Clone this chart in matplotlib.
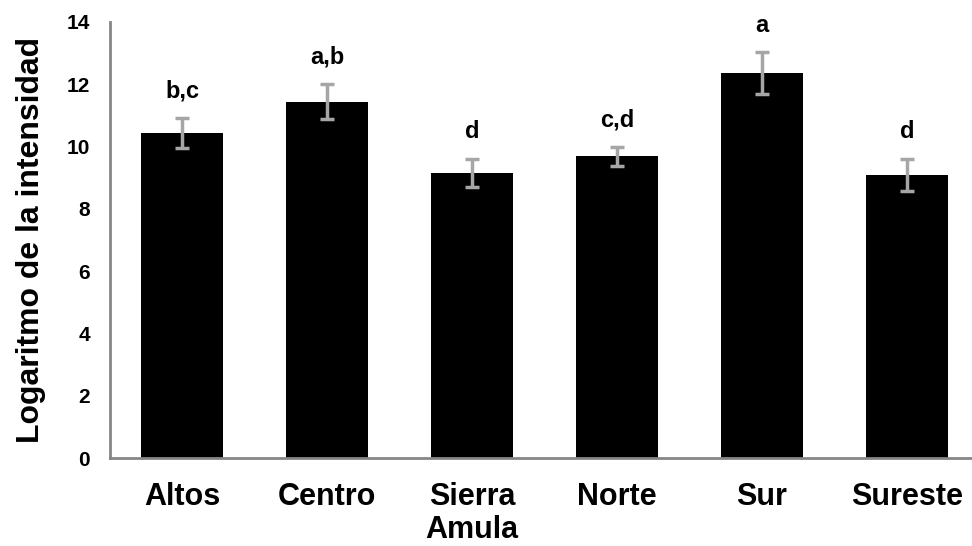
import numpy as np
import matplotlib
matplotlib.use('Agg')
from matplotlib import pyplot as plt

plt.rcParams['font.family'] = ['Liberation Sans', 'DejaVu Sans']
plt.rcParams['font.weight'] = 'bold'

regiones = ['Altos', 'Centro', 'Sierra\nAmula', 'Norte', 'Sur', 'Sureste']
medias = [10.43, 11.44, 9.15, 9.68, 12.35, 9.08]
errores = [0.47, 0.57, 0.45, 0.30, 0.67, 0.52]
letras = ['b,c', 'a,b', 'd', 'c,d', 'a', 'd']

fig = plt.figure(figsize=(9.72, 5.46), dpi=100)
ax = fig.add_axes([0.1127, 0.161, 0.895, 0.799])

x = np.arange(len(regiones))
ax.bar(x, medias, width=0.57, color='black', zorder=2)
ax.errorbar(x, medias, yerr=errores, fmt='none', ecolor='#a6a6a6',
            elinewidth=2.5, capsize=5, capthick=2.5, zorder=3)

# letras de significancia sobre cada barra
for xi, m, e, l in zip(x, medias, errores, letras):
    ax.text(xi, m + e + 0.5, l, ha='center', va='bottom',
            fontsize=17, fontweight='bold')

ax.set_xlim(-0.5, len(regiones) - 0.5)
ax.set_ylim(0, 14)
ax.set_yticks(range(0, 15, 2))
ax.set_xticks(x)
ax.set_xticklabels(regiones, fontsize=22, fontweight='bold', linespacing=1.15)
ax.tick_params(axis='y', labelsize=15, length=0, pad=14)
ax.tick_params(axis='x', length=0, pad=17)
ax.set_ylabel('Logaritmo de la intensidad', fontsize=23, fontweight='bold',
              labelpad=15)

for s in ['top', 'right']:
    ax.spines[s].set_visible(False)
for s in ['left', 'bottom']:
    ax.spines[s].set_color('#868686')
    ax.spines[s].set_linewidth(2)

fig.savefig('out.png', dpi=100)
